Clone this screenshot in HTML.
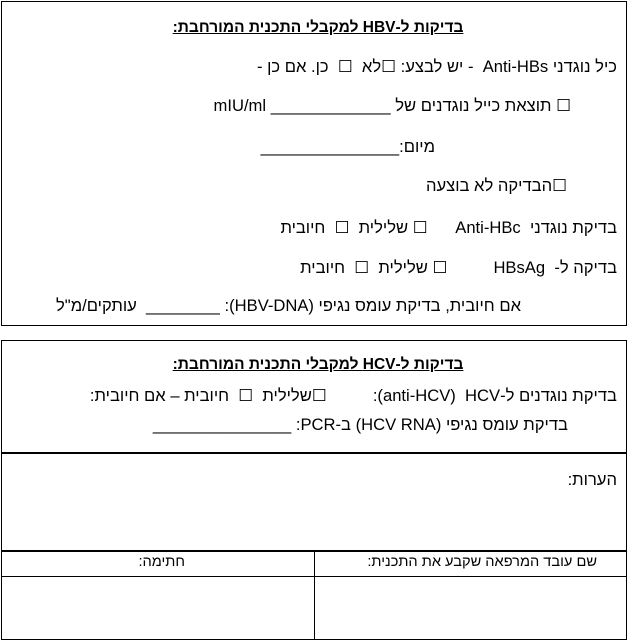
<!DOCTYPE html>
<html><head><meta charset="utf-8"><style>
body{margin:0;width:628px;height:641px;background:#fff;position:relative;overflow:hidden;font-family:"Liberation Sans","DejaVu Sans",sans-serif;color:#000}
.b{position:absolute;border:1.5px solid #000;box-sizing:border-box}
.l{position:absolute;background:#000}
.t{position:absolute;direction:rtl;white-space:pre;font-size:16.6px;line-height:18px}
.c{position:absolute;left:0;width:628px;text-align:center;direction:rtl;font-size:15.5px;font-weight:bold;text-decoration:underline;line-height:18px}
</style></head><body>
<div class="b" style="left:1px;top:1px;width:626px;height:325px"></div>
<div class="b" style="left:1px;top:340px;width:626px;height:300px"></div>
<div class="l" style="left:1px;top:452px;width:626px;height:1.5px"></div>
<div class="l" style="left:1px;top:550px;width:626px;height:1.5px"></div>
<div class="l" style="left:1px;top:576px;width:626px;height:1px"></div>
<div class="l" style="left:314px;top:550px;width:1px;height:90px"></div>

<div class="c" style="top:19px;left:4px">בדיקות ל-HBV למקבלי התכנית המורחבת:</div>
<div class="t" style="right:11px;top:58px">כיל נוגדני Anti-HBs  - יש לבצע: ☐לא  ☐  כן. אם כן -</div>
<div class="t" style="right:57px;top:97px">☐ תוצאת כייל נוגדנים של _____________ mIU/ml</div>
<div class="t" style="right:193px;top:138px">מיום:_______________</div>
<div class="t" style="right:61px;top:177px">☐הבדיקה לא בוצעה</div>
<div class="t" style="right:11px;top:219px">בדיקת נוגדני  Anti-HBc      ☐ שלילית  ☐  חיובית</div>
<div class="t" style="right:11px;top:259px">בדיקה ל-  HBsAg          ☐ שלילית  ☐  חיובית</div>
<div class="t" style="right:107px;top:297px">אם חיובית, בדיקת עומס נגיפי (HBV-DNA): ________  עותקים/מ"ל</div>

<div class="c" style="top:356px;left:4px">בדיקות ל-HCV למקבלי התכנית המורחבת:</div>
<div class="t" style="right:11px;top:387px">בדיקת נוגדנים ל-HCV&rlm;  (anti-HCV):          ☐שלילית  ☐  חיובית – אם חיובית:</div>
<div class="t" style="right:60px;top:416px">בדיקת עומס נגיפי (HCV RNA) ב-PCR: _______________</div>

<div class="t" style="right:11px;top:471px">הערות:</div>
<div class="t" style="right:31px;top:553px;font-size:14.6px">שם עובד המרפאה שקבע את התכנית:</div>
<div class="t" style="right:443px;top:553px;font-size:14.6px">חתימה:</div>
</body></html>
